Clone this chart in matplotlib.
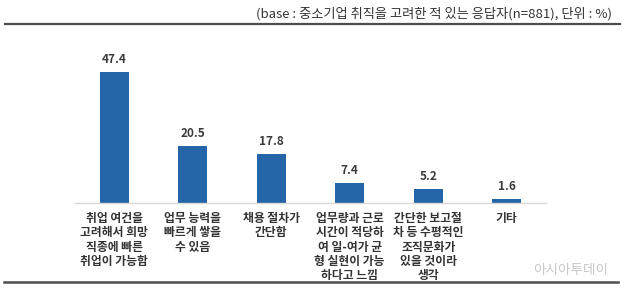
import matplotlib.pyplot as plt
from matplotlib.lines import Line2D

plt.rcParams['font.family'] = ['Noto Sans CJK KR', 'DejaVu Sans']

# 데이터
categories = [
    '취업 여건을\n고려해서 희망\n직종에 빠른\n취업이 가능함',
    '업무 능력을\n빠르게 쌓을\n수 있음',
    '채용 절차가\n간단함',
    '업무량과 근로\n시간이 적당하\n여 일-여가 균\n형 실현이 가능\n하다고 느낌',
    '간단한 보고절\n차 등 수평적인\n조직문화가\n있을 것이라\n생각',
    '기타',
]
values = [47.4, 20.5, 17.8, 7.4, 5.2, 1.6]
header = '(base : 중소기업 취직을 고려한 적 있는 응답자(n=881), 단위 : %)'

bar_color = '#2465a8'
text_color = '#333333'

fig = plt.figure(figsize=(6.28, 2.98), dpi=100)
ax = fig.add_axes([75 / 628, 95 / 298, 471 / 628, 160 / 298])

x = range(len(values))
ax.bar(x, values, width=0.37, color=bar_color)
for i, v in zip(x, values):
    ax.text(i, v + 2.2, f'{v:.1f}', ha='center', va='bottom',
            fontsize=8.5, fontweight='bold', color='#3a3a3a')

ax.set_xlim(-0.5, 5.5)
ax.set_ylim(0, 58)
ax.set_yticks([])
ax.set_xticks([])
for side in ['top', 'right', 'left']:
    ax.spines[side].set_visible(False)
ax.spines['bottom'].set_color('#d9d9d9')
ax.spines['bottom'].set_linewidth(1)

# 카테고리 라벨
for i, lab in zip(x, categories):
    ax.annotate(lab, xy=(i, 0), xycoords='data', xytext=(0, -6.5),
                textcoords='offset points', ha='center', va='top',
                fontsize=8.5, fontweight='bold', linespacing=1.13,
                color=text_color)

# 상단 제목과 선
fig.text(612 / 628, 1 - 14 / 298, header, ha='right', va='center',
         fontsize=9.5, color='#333333')
fig.add_artist(Line2D([5 / 628, 620 / 628], [1 - 24 / 298, 1 - 24 / 298],
                      color='#4d4d4d', linewidth=1.6))
fig.add_artist(Line2D([4 / 628, 618 / 628], [1 - 282 / 298, 1 - 282 / 298],
                      color='#4d4d4d', linewidth=1.8))

# 워터마크
fig.text(608 / 628, 1 - 270 / 298, '아시아투데이', ha='right', va='center',
         fontsize=9.8, color='#c8c8c8')

fig.savefig('out.png', dpi=100)
